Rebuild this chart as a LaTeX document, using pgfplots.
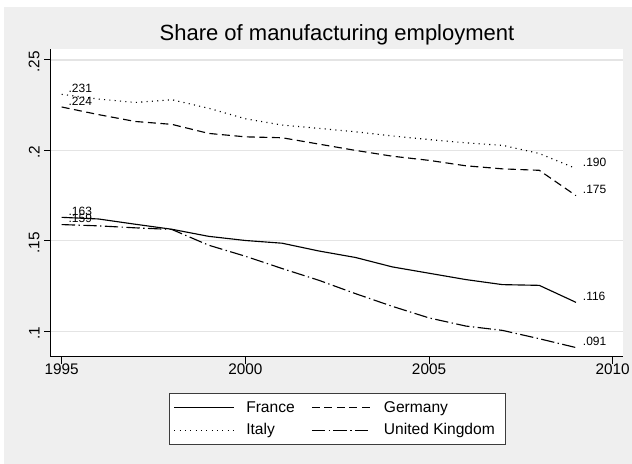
\documentclass[border=0pt]{standalone}
\usepackage{pgfplots}
\usepackage{pgfplotstable}
\pgfplotsset{compat=1.18}
\usepackage{fontspec}
\setmainfont{Liberation Sans}

\definecolor{bggray}{RGB}{239,239,239}
\definecolor{gridgray}{RGB}{228,228,228}
\definecolor{legframe}{RGB}{60,60,60}

% Share of manufacturing in total employment, 1995-2009
\pgfplotstableread{
year  France  Germany  Italy   UK
1995  0.163   0.224    0.231   0.159
1996  0.1621  0.2198   0.2284  0.1583
1997  0.1592  0.2160   0.2265  0.1572
1998  0.1564  0.2144   0.2280  0.1563
1999  0.1525  0.2094   0.2233  0.1476
2000  0.1502  0.2075   0.2175  0.1415
2001  0.1487  0.2070   0.2140  0.1347
2002  0.1444  0.2035   0.2122  0.1282
2003  0.1408  0.2000   0.2103  0.1208
2004  0.1356  0.1968   0.2080  0.1138
2005  0.1321  0.1945   0.2060  0.1074
2006  0.1286  0.1915   0.2042  0.1029
2007  0.1258  0.1898   0.2028  0.1005
2008  0.1254  0.1890   0.1983  0.0959
2009  0.116   0.175    0.190   0.091
}\sharetable

\begin{document}
\begin{tikzpicture}
\useasboundingbox (0,0) rectangle (474pt,348pt);
\fill[white] (0,0) rectangle (474pt,348pt);
\fill[bggray] (3.2pt,0) rectangle (474pt,342.75pt);
\begin{axis}[
  at={(38.25pt,80.25pt)}, anchor=south west,
  scale only axis, width=429pt, height=230.8pt,
  xmin=1994.709, xmax=2010.28, ymin=0.08579, ymax=0.25592,
  axis x line*=bottom, axis y line*=left,
  axis background/.style={fill=white},
  axis line style={black, line width=0.75pt},
  xtick={1995,2000,2005,2010}, xticklabels={1995,2000,2005,2010},
  ytick={0.1,0.15,0.2,0.25}, yticklabels={.1,.15,.2,.25},
  tick align=outside, major tick length=5pt,
  tick style={black, line width=0.75pt},
  ymajorgrids, major grid style={gridgray, line width=0.9pt},
  ticklabel style={font=\fontsize{11.5}{13}\selectfont},
  xticklabel style={yshift=3.5pt},
  yticklabel style={rotate=90, anchor=south, xshift=-1.5pt},
  /pgf/number format/assume math mode=true,
  title={Share of manufacturing employment},
  title style={font=\fontsize{16.5}{19}\selectfont, at={(0.5,1)}, anchor=base, yshift=0.3pt},
  legend columns=2,
  legend cell align=left,
  legend style={
    at={(0.5,-0.116)}, anchor=north,
    draw=legframe, line width=0.6pt, fill=white,
    font=\fontsize{11.7}{13}\selectfont,
    inner xsep=3.5pt, inner ysep=2.6pt,
    nodes={inner xsep=4.1pt, inner ysep=3.5pt},
    /tikz/every even column/.append style={column sep=8.25pt},
  },
  legend image code/.code={\draw[#1] (0pt,0pt) -- (45pt,0pt); \path (49.5pt,0pt);},
  label style/.style={only marks, mark=*, mark size=0pt, mark options={draw=none, fill=none},
    forget plot, point meta=y,
    nodes near coords={\pgfmathprintnumber[fixed, fixed zerofill, precision=3, skip 0.]{\pgfplotspointmeta}},
    every node near coord/.append style={anchor=west, inner sep=0pt, xshift=5pt, yshift=4.5pt,
      font=\fontsize{9}{10}\selectfont, text=black}},
]
\addplot[black, line width=0.85pt, solid] table[x=year, y=France] {\sharetable};
\addlegendentry{France}
\addplot[black, line width=0.85pt, dash pattern=on 6pt off 3.4pt] table[x=year, y=Germany] {\sharetable};
\addlegendentry{Germany}
\addplot[black, line width=0.85pt, dash pattern=on 0.8pt off 3.2pt] table[x=year, y=Italy] {\sharetable};
\addlegendentry{Italy}
\addplot[black, line width=0.85pt, dash pattern=on 10pt off 2.6pt on 1pt off 2.6pt] table[x=year, y=UK] {\sharetable};
\addlegendentry{United Kingdom}

% values at the first and last year
\addplot[label style] coordinates {(1995,0.231) (2009,0.190)};
\addplot[label style] coordinates {(1995,0.224) (2009,0.175)};
\addplot[label style] coordinates {(1995,0.163) (2009,0.116)};
\addplot[label style] coordinates {(1995,0.159) (2009,0.091)};
\end{axis}
\end{tikzpicture}
\end{document}
